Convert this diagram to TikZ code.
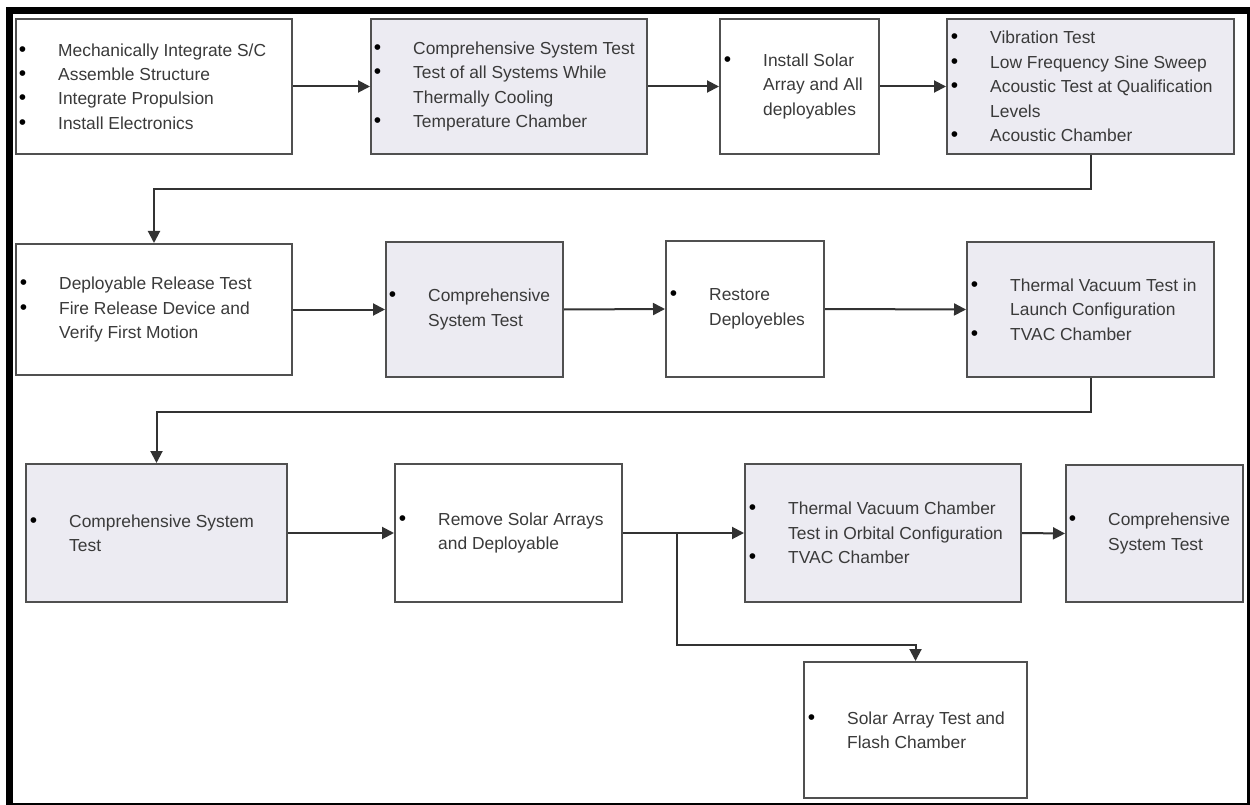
\documentclass[tikz,border=0pt]{standalone}
\usepackage{fontspec}
\setmainfont{Liberation Sans}
\usetikzlibrary{arrows.meta,calc}
\definecolor{boxfill}{RGB}{236,235,242}
\definecolor{boxline}{RGB}{80,80,80}
\definecolor{txtcol}{RGB}{58,58,58}
\definecolor{conncol}{RGB}{50,50,50}
\newcommand{\bul}{\llap{\raisebox{0pt}{\color{black}\fontsize{21}{21}\selectfont\textbullet}\hspace{32pt}}}
\begin{document}
\begin{tikzpicture}[x=1pt,y=-1pt,
  stepbox/.style={draw=boxline,line width=2pt,fill=white,rectangle,inner sep=0pt},
  graybox/.style={stepbox,fill=boxfill},
  boxtext/.style={anchor=west,align=left,inner sep=0pt,text=txtcol,font=\fontsize{17.4}{24.4}\selectfont},
  flow/.style={draw=conncol,line width=2pt,-{Triangle[length=12pt,width=12pt]}}]
\useasboundingbox (0,0) rectangle (1250,805);
\fill[white] (0,0) rectangle (1250,805);
\draw[line width=7pt,black] (9,10.5) rectangle (1250,806);

% row 1
\node[stepbox,minimum width=276pt,minimum height=135pt] (A) at (154,86.5) {};
\node[graybox,minimum width=276pt,minimum height=135pt] (B) at (509,86.5) {};
\node[stepbox,minimum width=159pt,minimum height=135pt] (C) at (799.5,86.5) {};
\node[graybox,minimum width=287pt,minimum height=135pt] (D) at (1090.5,86.5) {};
% row 2
\node[stepbox,minimum width=276pt,minimum height=131pt] (E) at (154,309.5) {};
\node[graybox,minimum width=177pt,minimum height=135pt] (F) at (474.5,309.5) {};
\node[stepbox,minimum width=158pt,minimum height=136pt] (G) at (745,309) {};
\node[graybox,minimum width=247pt,minimum height=135pt] (H) at (1090.5,309.5) {};
% row 3
\node[graybox,minimum width=261pt,minimum height=138pt] (I) at (156.5,533) {};
\node[stepbox,minimum width=227pt,minimum height=138pt] (J) at (508.5,533) {};
\node[graybox,minimum width=276pt,minimum height=138pt] (K) at (883,533) {};
\node[graybox,minimum width=177pt,minimum height=137pt] (L) at (1154.5,533.5) {};
\node[stepbox,minimum width=223pt,minimum height=136pt] (M) at (915.5,730) {};

% texts
\node[boxtext] (At) at ([xshift=43pt]A.west) {\bul Mechanically Integrate S/C\\\bul Assemble Structure\\\bul Integrate Propulsion\\\bul Install Electronics};
\node[boxtext] (Bt) at ([xshift=43pt]B.west) {\bul Comprehensive System Test\\\bul Test of all Systems While\\Thermally Cooling\\\bul Temperature Chamber};
\node[boxtext] (Ct) at ([xshift=44pt]C.west) {\bul Install Solar\\Array and All\\deployables};
\node[boxtext] (Dt) at ([xshift=44pt]D.west) {\bul Vibration Test\\\bul Low Frequency Sine Sweep\\\bul Acoustic Test at Qualification\\Levels\\\bul Acoustic Chamber};
\node[boxtext] (Et) at ([xshift=44pt]E.west) {\bul Deployable Release Test\\\bul Fire Release Device and\\Verify First Motion};
\node[boxtext] (Ft) at ([xshift=43pt]F.west) {\bul Comprehensive\\System Test};
\node[boxtext] (Gt) at ([xshift=44pt]G.west) {\bul Restore\\Deployebles};
\node[boxtext] (Ht) at ([xshift=44pt]H.west) {\bul Thermal Vacuum Test in\\Launch Configuration\\\bul TVAC Chamber};
\node[boxtext] (It) at ([xshift=44pt]I.west) {\bul Comprehensive System\\Test};
\node[boxtext] (Jt) at ([xshift=44pt]J.west) {\bul Remove Solar Arrays\\and Deployable};
\node[boxtext] (Kt) at ([xshift=44pt]K.west) {\bul Thermal Vacuum Chamber\\Test in Orbital Configuration\\\bul TVAC Chamber};
\node[boxtext] (Lt) at ([xshift=43pt]L.west) {\bul Comprehensive\\System Test};
\node[boxtext] (Mt) at ([xshift=44pt]M.west) {\bul Solar Array Test and\\Flash Chamber};

% connectors
\draw[flow] (A.east) -- (B.west);
\draw[flow] (B.east) -- (C.west);
\draw[flow] (C.east) -- (D.west);
\draw[flow] (D.south) -- ++(0,34) -| (E.north);
\draw[flow] (E.east) -- (F.west);
\draw[flow] (F.east) -- (G.west);
\draw[flow] (G.east) -- (H.west);
\draw[flow] (H.south) -- ++(0,34) -| (I.north);
\draw[flow] (I.east) -- (J.west);
\draw[flow] (J.east) -- (K.west);
\coordinate (br) at (677,533);
\draw[flow] (br) -- ++(0,112) -| (M.north);
\draw[flow] (K.east) -- (L.west);
\end{tikzpicture}
\end{document}
